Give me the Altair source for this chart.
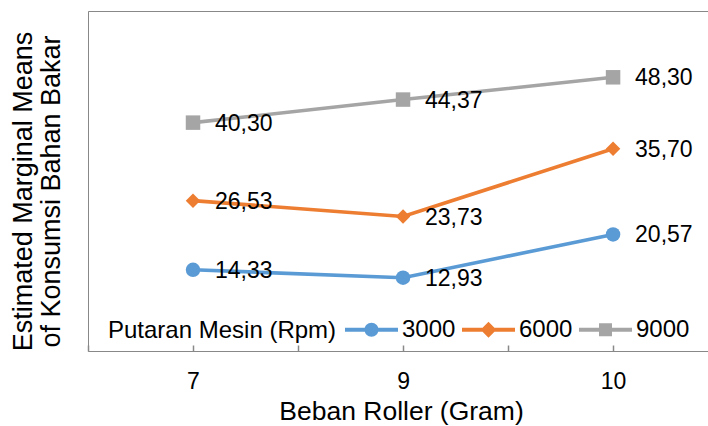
import altair as alt
import pandas as pd

categories = ["7", "9", "10"]
series = ["3000", "6000", "9000"]
v3000 = [14.33, 12.93, 20.57]
v6000 = [26.53, 23.73, 35.70]
v9000 = [40.30, 44.37, 48.30]
colors = ["#5B9BD5", "#ED7D31", "#A5A5A5"]
tick_positions = [-0.5, 0, 0.5, 1, 1.5, 2, 2.5]

rows = []
for s, vals in zip(series, [v3000, v6000, v9000]):
    for i, (c, v) in enumerate(zip(categories, vals)):
        rows.append({"idx": i, "cat": c, "series": s, "value": v,
                     "label": f"{v:.2f}".replace(".", ",")})
df = pd.DataFrame(rows)

FONT = "Liberation Sans"
xscale = alt.Scale(domain=[-0.5, 2.452], nice=False, zero=False)
yscale = alt.Scale(domain=[0, 60], nice=False, zero=True)
label_expr = "[" + ",".join(f"'{c}'" for c in categories) + "][datum.value]"

yaxis = alt.Axis(
    title=["Estimated Marginal Means", "of Konsumsi Bahan Bakar"],
    labels=False, ticks=False, grid=False, domain=True,
    titleFontSize=27, titleFont=FONT, titleFontWeight="normal",
    titleAngle=270, titleBaseline="alphabetic", titleAlign="center",
    titleX=-57, titleY=180, titleLineHeight=28.5, titleLimit=600,
)
color_scale = alt.Scale(domain=series, range=colors)

y_enc = alt.Y("value:Q", scale=yscale, axis=yaxis)

line = alt.Chart(df).mark_line(strokeWidth=3.6).encode(
    x=alt.X("idx:Q", scale=xscale, axis=alt.Axis(
        orient="bottom", values=[0, 1, 2], labelExpr=label_expr,
        ticks=False, domain=True, grid=False, labelPadding=19,
        labelFontSize=23, labelFont=FONT,
        title="Beban Roller (Gram)", titleFontSize=26.5, titleFont=FONT,
        titleFontWeight="normal", titleX=313, titleY=47, titleAlign="center",
        titleBaseline="top")),
    y=y_enc,
    color=alt.Color("series:N", scale=color_scale, legend=None),
    detail="series:N",
)

markers = alt.Chart(df).mark_point(filled=True, opacity=1, size=210).encode(
    x=alt.X("idx:Q", scale=xscale, axis=alt.Axis(
        orient="bottom", offset=-6, values=tick_positions, ticks=True,
        tickSize=6, tickWidth=1.5, labels=False, domain=False, grid=False,
        title=None)),
    y=y_enc,
    color=alt.Color("series:N", scale=color_scale, legend=None),
    shape=alt.Shape("series:N", scale=alt.Scale(domain=series,
                    range=["circle", "diamond", "square"]), legend=None),
)

texts = alt.Chart(df).mark_text(align="left", baseline="middle", dx=22, dy=1,
                                fontSize=23, font=FONT, color="black").encode(
    x=alt.X("idx:Q", scale=xscale, axis=alt.Axis(
        orient="top", ticks=False, labels=False, domain=True, grid=False,
        title=None)),
    y=y_enc,
    text="label:N",
)

p_circle = "M0.264,0A0.264,0.264,0,1,1,-0.264,0A0.264,0.264,0,1,1,0.264,0Z"
p_diamond = "M0,-0.3L0.3,0L0,0.3L-0.3,0Z"
p_square = "M-0.245,-0.245H0.245V0.245H-0.245Z"
p_line = "M-1,-0.072H1V0.072H-1Z"
legend_shapes = [p_line + p_circle, p_line + p_diamond, p_line + p_square]

leg = alt.Legend(
    title="Putaran Mesin (Rpm)", orient="none", legendX=20, legendY=292,
    direction="horizontal", titleOrient="left", titleAnchor="middle",
    titleBaseline="line-top", titleLineHeight=18, titleLimit=500,
    titleFontSize=24, titleFont=FONT, titleFontWeight="normal",
    titleColor="black", titlePadding=8,
    labelFontSize=24, labelFont=FONT, labelColor="black", labelOffset=4,
    columnPadding=6, symbolSize=2809, symbolStrokeWidth=0,
)

legend_layer = alt.Chart(df).transform_filter("false").mark_point(
    filled=True, opacity=1).encode(
    x=alt.X("idx:Q", scale=xscale, axis=None),
    y=y_enc,
    color=alt.Color("series:N", scale=color_scale, legend=leg),
    shape=alt.Shape("series:N", scale=alt.Scale(domain=series,
                    range=legend_shapes), legend=leg),
)

chart = alt.layer(line, markers, texts, legend_layer).resolve_scale(
    shape="independent", color="independent"
).resolve_axis(x="independent").properties(
    width=620, height=340,
    autosize=alt.AutoSizeParams(type="none"),
    padding={"left": 88, "top": 11, "right": 0, "bottom": 75},
).configure_view(stroke=None).configure_axis(
    domainColor="black", domainWidth=1.5, tickColor="black",
    labelColor="black", titleColor="black",
).configure(background="white")

chart.save("out.html", embed_options={"renderer": "svg", "actions": False})
